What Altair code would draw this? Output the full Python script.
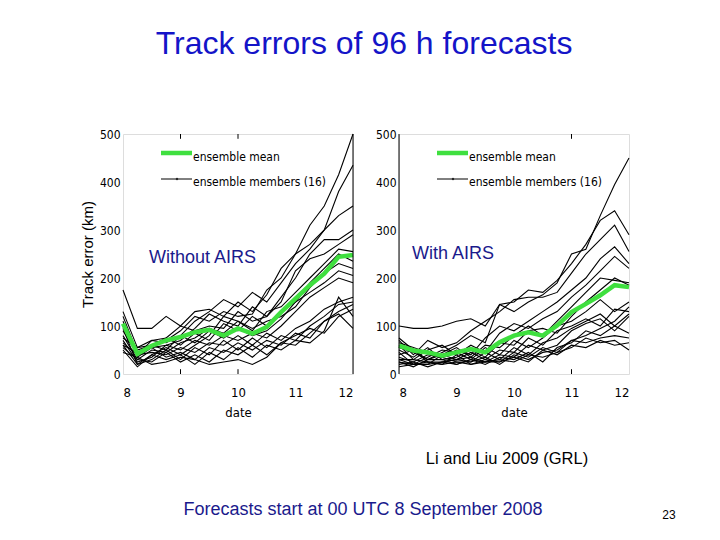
import altair as alt
import pandas as pd

times = [8.0, 8.25, 8.5, 8.75, 9.0, 9.25, 9.5, 9.75, 10.0,
         10.25, 10.5, 10.75, 11.0, 11.25, 11.5, 11.75, 12.0]

# ---- Without AIRS (left panel) ----
left_members = [
    [175, 95, 95, 120, 100, 130, 135, 120, 150, 130, 165, 220, 250, 310, 350, 415, 500],
    [130, 55, 70, 65, 80, 110, 130, 155, 140, 170, 150, 190, 230, 260, 300, 380, 435],
    [120, 45, 60, 70, 90, 120, 110, 130, 120, 125, 175, 200, 250, 270, 300, 330, 350],
    [110, 35, 55, 60, 70, 95, 125, 110, 100, 140, 120, 160, 200, 250, 280, 280, 300],
    [100, 50, 60, 75, 100, 90, 100, 95, 130, 110, 120, 150, 215, 240, 250, 270, 290],
    [95, 20, 40, 55, 40, 60, 80, 120, 110, 90, 130, 140, 170, 200, 230, 260, 255],
    [90, 40, 70, 75, 60, 85, 70, 105, 90, 120, 100, 130, 150, 190, 220, 250, 235],
    [80, 30, 50, 45, 65, 75, 95, 85, 110, 95, 110, 120, 140, 180, 210, 230, 220],
    [75, 55, 60, 50, 80, 65, 90, 75, 95, 80, 90, 115, 150, 170, 190, 215, 205],
    [70, 25, 35, 60, 50, 70, 60, 80, 70, 85, 75, 100, 130, 160, 180, 200, 190],
    [65, 40, 45, 40, 55, 45, 65, 60, 80, 60, 85, 70, 95, 110, 135, 150, 160],
    [60, 20, 30, 50, 30, 55, 40, 70, 50, 75, 55, 80, 70, 100, 120, 145, 150],
    [60, 45, 55, 35, 45, 30, 55, 45, 65, 50, 70, 60, 85, 75, 110, 130, 145],
    [55, 30, 25, 45, 25, 40, 25, 50, 40, 60, 40, 65, 80, 95, 85, 120, 135],
    [50, 15, 40, 30, 40, 20, 45, 30, 55, 35, 60, 50, 70, 65, 90, 160, 120],
    [45, 35, 20, 25, 35, 30, 20, 25, 30, 20, 35, 65, 60, 85, 110, 125, 95],
]
left_mean = [105, 42, 59, 70, 77, 87, 92, 80, 95, 84, 98, 129, 157, 185, 209, 244, 248]

# ---- With AIRS (right panel) ----
right_members = [
    [100, 95, 95, 100, 110, 115, 100, 145, 130, 150, 165, 190, 250, 260, 330, 395, 450],
    [75, 50, 30, 45, 60, 80, 65, 145, 150, 175, 170, 195, 230, 270, 320, 340, 290],
    [70, 40, 70, 55, 65, 90, 110, 130, 155, 160, 160, 170, 210, 250, 280, 310, 255],
    [65, 55, 45, 35, 50, 40, 75, 100, 90, 110, 130, 150, 175, 200, 240, 265, 230],
    [60, 30, 50, 60, 40, 60, 45, 85, 105, 95, 115, 130, 160, 185, 215, 245, 220],
    [55, 45, 30, 40, 55, 35, 60, 55, 80, 100, 80, 110, 140, 170, 200, 195, 190],
    [50, 35, 55, 30, 35, 50, 35, 65, 60, 90, 95, 85, 120, 150, 175, 200, 185],
    [45, 20, 35, 50, 45, 30, 55, 40, 70, 55, 75, 100, 110, 130, 155, 130, 150],
    [40, 50, 25, 25, 30, 45, 30, 50, 45, 75, 60, 90, 100, 115, 100, 135, 130],
    [35, 25, 40, 35, 25, 25, 45, 30, 55, 40, 65, 75, 95, 110, 125, 100, 125],
    [30, 20, 20, 40, 30, 35, 25, 40, 35, 60, 50, 60, 90, 105, 115, 90, 120],
    [30, 30, 25, 20, 40, 20, 30, 25, 45, 35, 55, 45, 70, 80, 95, 110, 140],
    [25, 15, 30, 30, 20, 30, 20, 35, 30, 45, 25, 55, 65, 90, 80, 100, 85],
    [20, 25, 15, 25, 30, 25, 35, 20, 40, 30, 45, 50, 70, 65, 75, 80, 75],
    [25, 20, 25, 20, 25, 20, 25, 30, 25, 40, 35, 45, 55, 75, 65, 70, 50],
    [15, 20, 20, 25, 20, 30, 25, 25, 35, 25, 50, 40, 60, 55, 70, 60, 65],
]
right_mean = [59, 49, 45, 38, 45, 52, 45, 66, 80, 87, 80, 101, 129, 146, 164, 185, 181]

x_ticks = [8, 9, 10, 11, 12]
y_ticks = [0, 100, 200, 300, 400, 500]

NARROW = "Liberation Sans Narrow, DejaVu Sans Condensed, Arial Narrow, Liberation Sans, sans-serif"
ARIAL = "Liberation Sans, Arial, sans-serif"
GREEN = "#3fdf3f"
NAVY = "#1a1a8c"
W, H = 230, 240


def one():
    return pd.DataFrame({"a": [0]})


def panel(members, mean, label, label_x, label_y, ytitle, frame_x, tick_xs, extras):
    rows = []
    for i, series in enumerate(members):
        for t, v in zip(times, series):
            rows.append({"t": t, "e": v, "m": i})
    mdf = pd.DataFrame(rows)
    meandf = pd.DataFrame({"t": times, "e": mean})

    yaxis_kw = dict(values=y_ticks, domain=False, ticks=False, grid=False,
                    labelFont=NARROW, labelFontSize=12, labelPadding=3,
                    labelColor="black")
    if ytitle:
        yaxis_kw.update(title=ytitle, titleFont=ARIAL, titleFontSize=15,
                        titleFontWeight="normal", titlePadding=4, titleColor="black")
    else:
        yaxis_kw.update(title=None)

    xs = alt.X("t:Q", scale=alt.Scale(domain=[8, 12], nice=False),
               axis=alt.Axis(values=x_ticks, format="d", title="date", domain=False,
                             ticks=False, grid=False, labelFont=NARROW, labelFontSize=13,
                             labelPadding=12, labelColor="black", titleFont=NARROW,
                             titleFontSize=13, titleFontWeight="normal", titlePadding=7,
                             titleColor="black"))
    ys = alt.Y("e:Q", scale=alt.Scale(domain=[0, 500], nice=False),
               axis=alt.Axis(**yaxis_kw))

    lines = alt.Chart(mdf).mark_line(color="black", strokeWidth=1.1).encode(
        x=xs, y=ys, detail="m:N")
    meanline = alt.Chart(meandf).mark_line(color=GREEN, strokeWidth=4.5).encode(
        x="t:Q", y="e:Q")

    framedf = pd.DataFrame({"t": [frame_x], "e": [0], "e2": [500]})
    frame = alt.Chart(framedf).mark_rule(color="black", strokeWidth=1).encode(
        x="t:Q", y="e:Q", y2="e2:Q")

    tickrows = []
    for tx in tick_xs:
        tickrows.append({"t": tx, "e": 0, "e2": 10})
        tickrows.append({"t": tx, "e": 490, "e2": 500})
    ticks = alt.Chart(pd.DataFrame(tickrows)).mark_rule(color="black", strokeWidth=1).encode(
        x="t:Q", y="e:Q", y2="e2:Q")

    leg_g = alt.Chart(one()).mark_rule(color=GREEN, strokeWidth=4.5).encode(
        x=alt.value(38), x2=alt.value(69), y=alt.value(19))
    leg_gt = alt.Chart(one()).mark_text(text="ensemble mean", align="left", baseline="middle",
                                        font=NARROW, fontSize=12, color="black").encode(
        x=alt.value(70), y=alt.value(23))
    leg_k = alt.Chart(one()).mark_rule(color="black", strokeWidth=1).encode(
        x=alt.value(38), x2=alt.value(69), y=alt.value(45))
    leg_kp = alt.Chart(one()).mark_point(color="black", filled=True, size=6).encode(
        x=alt.value(54), y=alt.value(45))
    leg_kt = alt.Chart(one()).mark_text(text="ensemble members (16)", align="left",
                                        baseline="middle", font=NARROW, fontSize=12,
                                        color="black").encode(
        x=alt.value(70), y=alt.value(48))

    lab = alt.Chart(one()).mark_text(text=label, align="left", baseline="middle",
                                     font=ARIAL, fontSize=18, color=NAVY).encode(
        x=alt.value(label_x), y=alt.value(label_y))

    layers = [lines, meanline, frame, ticks, leg_g, leg_gt, leg_k, leg_kp, leg_kt, lab] + extras
    return alt.layer(*layers).properties(width=W, height=H)


title_mark = alt.Chart(one()).mark_text(
    text="Track errors of 96 h forecasts", align="center", baseline="middle",
    font=ARIAL, fontSize=32, color="#1414c8").encode(x=alt.value(241), y=alt.value(-90))

ref_mark = alt.Chart(one()).mark_text(
    text="Li and Liu 2009 (GRL)", align="center", baseline="middle",
    font=ARIAL, fontSize=16.5, color="black").encode(x=alt.value(108), y=alt.value(325))

start_mark = alt.Chart(one()).mark_text(
    text="Forecasts start at 00 UTC 8 September 2008", align="center", baseline="middle",
    font=ARIAL, fontSize=18, color=NAVY).encode(x=alt.value(240), y=alt.value(376))

page_mark = alt.Chart(one()).mark_text(
    text="23", align="center", baseline="middle",
    font=ARIAL, fontSize=12, color="black").encode(x=alt.value(270), y=alt.value(381))

left = panel(left_members, left_mean, "Without AIRS", 26, 124, "Track error (km)",
             12, [9, 10], [title_mark, start_mark])
right = panel(right_members, right_mean, "With AIRS", 13, 120, None,
              8, [11], [ref_mark, page_mark])

chart = alt.hconcat(left, right, spacing=46, bounds="flush").properties(
    padding={"left": 71, "top": 19, "right": 0, "bottom": 0}
).configure_view(stroke=None).configure(background="white")

chart.save("out.html", embed_options={"renderer": "svg", "actions": False})
